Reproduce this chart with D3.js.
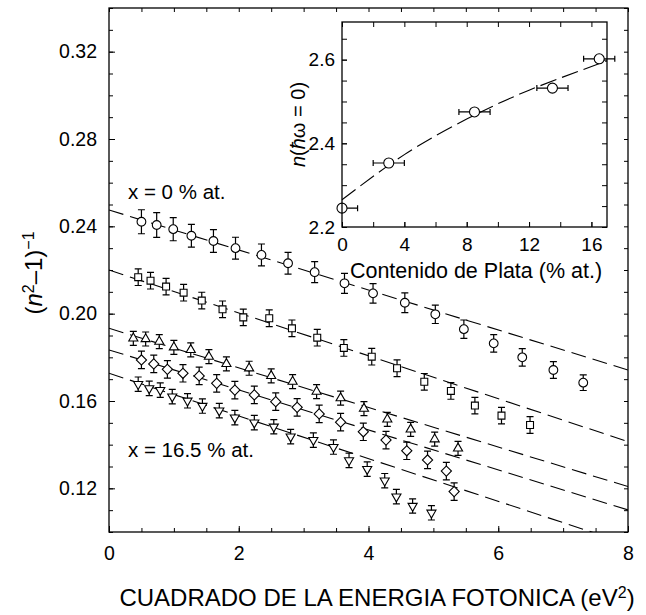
<!DOCTYPE html>
<html>
<head>
<meta charset="utf-8">
<script src="https://cdn.jsdelivr.net/npm/d3@7"></script>
<style>
	body { margin: 0; background: #fff; }
	text { font-family: "Liberation Sans", Arial, Helvetica, sans-serif; fill: #000; }
</style>
</head>
<body>
<div id="chart"></div>
<script>
// x = 0 % at. (circles)
var circleE = [0.50, 0.735, 0.99, 1.27, 1.61, 1.95, 2.35, 2.76, 3.17, 3.63, 4.07, 4.56, 5.03, 5.47, 5.93, 6.37, 6.85, 7.31];
var circleV = [0.2421, 0.2406, 0.2387, 0.2357, 0.2333, 0.2300, 0.2269, 0.2231, 0.2190, 0.2139, 0.2093, 0.2050, 0.1997, 0.1929, 0.1864, 0.1800, 0.1742, 0.1684];
var circleErr = [0.0055, 0.0057, 0.0053, 0.0052, 0.0052, 0.0050, 0.0050, 0.0050, 0.0048, 0.0046, 0.0045, 0.0045, 0.0042, 0.0042, 0.0040, 0.0040, 0.0038, 0.0036];

var squareE = [0.45, 0.64, 0.88, 1.15, 1.43, 1.75, 2.07, 2.47, 2.82, 3.21, 3.62, 4.05, 4.44, 4.86, 5.27, 5.64, 6.05, 6.49];
var squareV = [0.2167, 0.2151, 0.2124, 0.2096, 0.2060, 0.2020, 0.1983, 0.1979, 0.1933, 0.1890, 0.1843, 0.1803, 0.1750, 0.1688, 0.1646, 0.1579, 0.1533, 0.1490];
var squareErr = 0.0038;

var triUpE = [0.375, 0.565, 0.775, 1.00, 1.26, 1.54, 1.81, 2.16, 2.50, 2.83, 3.20, 3.57, 3.93, 4.29, 4.65, 5.02, 5.38];
var triUpV = [0.1887, 0.1884, 0.1872, 0.1846, 0.1834, 0.1803, 0.1770, 0.1750, 0.1715, 0.1689, 0.1643, 0.1613, 0.1565, 0.1516, 0.1470, 0.1425, 0.1383];
var triUpErr = 0.0032;

var diamondE = [0.50, 0.69, 0.90, 1.14, 1.39, 1.66, 1.94, 2.24, 2.57, 2.90, 3.24, 3.57, 3.92, 4.27, 4.59, 4.91, 5.20, 5.32];
var diamondV = [0.1788, 0.1770, 0.1745, 0.1727, 0.1715, 0.1681, 0.1650, 0.1628, 0.1597, 0.1571, 0.1541, 0.1503, 0.1459, 0.1421, 0.1372, 0.1330, 0.1279, 0.1185];
var diamondErr = 0.0040;

// x = 16.5 % at. (down triangles)
var triDownE = [0.45, 0.62, 0.79, 0.975, 1.21, 1.44, 1.70, 1.94, 2.24, 2.54, 2.80, 3.15, 3.46, 3.70, 3.98, 4.25, 4.43, 4.68, 4.97];
var triDownV = [0.1677, 0.1658, 0.1650, 0.1620, 0.1601, 0.1577, 0.1556, 0.1524, 0.1501, 0.1482, 0.1437, 0.1421, 0.1389, 0.1328, 0.1288, 0.1235, 0.1162, 0.1119, 0.1088];
var triDownErr = 0.0033;

// dashed fits, value at E2 = 0 and E2 = 8
var fitAt0 = [0.2475, 0.2200, 0.1933, 0.1834, 0.1727];
var fitAt8 = [0.1742, 0.1414, 0.1208, 0.1101, 0.0945];

var xTicks = [0, 2, 4, 6, 8];
var yTicks = [0.12, 0.16, 0.20, 0.24, 0.28, 0.32];

// inset: n(hw=0) vs silver content
var silverX = [0, 3, 8.5, 13.5, 16.5];
var silverN = [2.245, 2.353, 2.475, 2.532, 2.602];
var silverErr = 1.0;
var curveX = [0, 4, 8, 12, 17];
var curveN = [2.265, 2.373, 2.458, 2.527, 2.597];
var insetXTicks = [0, 4, 8, 12, 16];
var insetYTicks = [2.2, 2.4, 2.6];

var W = 646, H = 615;
var margin = {top: 8, right: 18, bottom: 83, left: 109};
var width = W - margin.left - margin.right;
var height = H - margin.top - margin.bottom;

var svg = d3.select("#chart").append("svg")
	.attr("width", W)
	.attr("height", H);

var g = svg.append("g")
	.attr("transform", "translate(" + margin.left + "," + margin.top + ")");

var x = d3.scaleLinear().domain([0, 8]).range([0, width]);
var y = d3.scaleLinear().domain([0.10, 0.34]).range([height, 0]);

g.append("clipPath").attr("id", "frameClip")
	.append("rect").attr("width", width).attr("height", height);

function styleAxis(sel) {
	sel.select(".domain").remove();
	sel.selectAll("line").attr("stroke", "#000").attr("stroke-width", 1);
	sel.selectAll("text").style("font-size", "19.5px").attr("fill", "#000");
}

// minor ticks on all four sides
g.append("g").call(d3.axisLeft(y).tickValues(d3.range(0.10, 0.345, 0.01)).tickSize(-4).tickFormat("")).call(styleAxis);
g.append("g").attr("transform", "translate(" + width + ",0)")
	.call(d3.axisRight(y).tickValues(d3.range(0.10, 0.345, 0.01)).tickSize(-4).tickFormat("")).call(styleAxis);
g.append("g").attr("transform", "translate(0," + height + ")")
	.call(d3.axisBottom(x).tickValues(d3.range(0, 8.01, 0.5)).tickSize(-4).tickFormat("")).call(styleAxis);
g.append("g")
	.call(d3.axisTop(x).tickValues(d3.range(0, 8.01, 0.5)).tickSize(-4).tickFormat("")).call(styleAxis);

// labelled ticks
g.append("g").call(d3.axisLeft(y).tickValues(yTicks).tickSize(-6).tickPadding(12).tickFormat(d3.format(".2f"))).call(styleAxis);
g.append("g").attr("transform", "translate(0," + height + ")")
	.call(d3.axisBottom(x).tickValues(xTicks).tickSize(-6).tickPadding(14).tickFormat(d3.format("d"))).call(styleAxis);

// fitted lines
var lines = g.append("g").attr("clip-path", "url(#frameClip)");
fitAt0.forEach(function (v0, i) {
	lines.append("line")
		.attr("x1", x(0)).attr("y1", y(v0))
		.attr("x2", x(8)).attr("y2", y(fitAt8[i]))
		.attr("stroke", "#000")
		.attr("stroke-width", 1.1)
		.attr("stroke-dasharray", "15,7");
});

function drawSeries(E, V, err, type, size, rot) {
	var pts = E.map(function (e, i) {
		return {e: e, v: V[i], err: Array.isArray(err) ? err[i] : err};
	});
	var s = g.append("g");
	s.selectAll(".bar").data(pts).enter().append("path")
		.attr("class", "bar")
		.attr("d", function (d) {
			var px = x(d.e), y0 = y(d.v - d.err), y1 = y(d.v + d.err);
			return "M" + px + "," + y0 + "V" + y1 +
				"M" + (px - 3.5) + "," + y0 + "h7" +
				"M" + (px - 3.5) + "," + y1 + "h7";
		})
		.attr("fill", "none")
		.attr("stroke", "#000")
		.attr("stroke-width", 1.2);
	s.selectAll(".mark").data(pts).enter().append("path")
		.attr("class", "mark")
		.attr("d", d3.symbol().type(type).size(size))
		.attr("transform", function (d) {
			return "translate(" + x(d.e) + "," + y(d.v) + ") rotate(" + rot + ")";
		})
		.attr("fill", "#fff")
		.attr("stroke", "#000")
		.attr("stroke-width", 1.1);
}

drawSeries(circleE, circleV, circleErr, d3.symbolCircle, 60, 0);
drawSeries(squareE, squareV, squareErr, d3.symbolSquare, 48, 0);
drawSeries(triUpE, triUpV, triUpErr, d3.symbolTriangle, 36, 0);
drawSeries(diamondE, diamondV, diamondErr, d3.symbolSquare, 52, 45);
drawSeries(triDownE, triDownV, triDownErr, d3.symbolTriangle, 36, 180);

g.append("rect")
	.attr("width", width).attr("height", height)
	.attr("fill", "none").attr("stroke", "#000").attr("stroke-width", 1.3);

g.append("text").attr("x", 19).attr("y", 190.5).style("font-size", "20.5px").text("x = 0 % at.");
g.append("text").attr("x", 19).attr("y", 449).style("font-size", "20.5px").text("x = 16.5 % at.");

// axis titles
var xt = svg.append("text")
	.attr("x", 377).attr("y", 606)
	.attr("text-anchor", "middle")
	.style("font-size", "24px");
xt.append("tspan").text("CUADRADO DE LA ENERGIA FOTONICA (eV");
xt.append("tspan").attr("baseline-shift", "super").style("font-size", "16px").text("2");
xt.append("tspan").text(")");

var yt = svg.append("text")
	.attr("transform", "translate(42,273) rotate(-90)")
	.attr("text-anchor", "middle")
	.style("font-size", "24px");
yt.append("tspan").text("(");
yt.append("tspan").style("font-style", "italic").text("n");
yt.append("tspan").attr("baseline-shift", "super").style("font-size", "16px").text("2");
yt.append("tspan").text("\u20131)");
yt.append("tspan").attr("baseline-shift", "super").style("font-size", "16px").text("\u22121");

// inset
var inset = {left: 342, top: 22, width: 265, height: 205};
var ig = svg.append("g").attr("transform", "translate(" + inset.left + "," + inset.top + ")");
var ix = d3.scaleLinear().domain([0, 17]).range([0, inset.width]);
var iy = d3.scaleLinear().domain([2.2, 2.69]).range([inset.height, 0]);

ig.append("rect").attr("width", inset.width).attr("height", inset.height).attr("fill", "#fff");

function styleInset(sel) {
	sel.select(".domain").remove();
	sel.selectAll("line").attr("stroke", "#000");
	sel.selectAll("text").style("font-size", "19px").attr("fill", "#000");
}

ig.append("g").attr("transform", "translate(0," + inset.height + ")")
	.call(d3.axisBottom(ix).tickValues(d3.range(0, 17, 2)).tickSize(-5).tickFormat("")).call(styleInset);
ig.append("g")
	.call(d3.axisTop(ix).tickValues(d3.range(0, 17, 2)).tickSize(-5).tickFormat("")).call(styleInset);
ig.append("g")
	.call(d3.axisLeft(iy).tickValues(d3.range(2.2, 2.69, 0.05)).tickSize(-5).tickFormat("")).call(styleInset);
ig.append("g").attr("transform", "translate(" + inset.width + ",0)")
	.call(d3.axisRight(iy).tickValues(d3.range(2.2, 2.69, 0.05)).tickSize(-5).tickFormat("")).call(styleInset);
ig.append("g").attr("transform", "translate(0," + inset.height + ")")
	.call(d3.axisBottom(ix).tickValues(insetXTicks).tickSize(-5).tickPadding(11).tickFormat(d3.format("d"))).call(styleInset);
ig.append("g")
	.call(d3.axisLeft(iy).tickValues(insetYTicks).tickSize(-5).tickPadding(7).tickFormat(d3.format(".1f"))).call(styleInset);

var curvePts = curveX.map(function (c, i) { return [c, curveN[i]]; });
ig.append("path")
	.datum(curvePts)
	.attr("d", d3.line().x(function (d) { return ix(d[0]); }).y(function (d) { return iy(d[1]); }).curve(d3.curveNatural))
	.attr("fill", "none")
	.attr("stroke", "#000")
	.attr("stroke-width", 1.1)
	.attr("stroke-dasharray", "17,6");

var ipts = silverX.map(function (c, i) { return {c: c, n: silverN[i]}; });
ig.selectAll(".xbar").data(ipts).enter().append("path")
	.attr("class", "xbar")
	.attr("d", function (d) {
		var x0 = ix(Math.max(d.c - silverErr, 0)), x1 = ix(d.c + silverErr), py = iy(d.n);
		return "M" + x0 + "," + py + "H" + x1 +
			(d.c - silverErr >= 0 ? "M" + x0 + "," + (py - 3) + "v6" : "") +
			"M" + x1 + "," + (py - 3) + "v6";
	})
	.attr("fill", "none")
	.attr("stroke", "#000")
	.attr("stroke-width", 1.2);
ig.selectAll(".pt").data(ipts).enter().append("circle")
	.attr("class", "pt")
	.attr("cx", function (d) { return ix(d.c); })
	.attr("cy", function (d) { return iy(d.n); })
	.attr("r", 5)
	.attr("fill", "#fff")
	.attr("stroke", "#000")
	.attr("stroke-width", 1.1);

ig.append("rect").attr("width", inset.width).attr("height", inset.height)
	.attr("fill", "none").attr("stroke", "#000").attr("stroke-width", 1.3);

ig.append("text")
	.attr("x", 134).attr("y", 256)
	.attr("text-anchor", "middle")
	.style("font-size", "21.5px")
	.text("Contenido de Plata (% at.)");

var it = ig.append("text")
	.attr("transform", "translate(-37," + (inset.height / 2) + ") rotate(-90)")
	.attr("text-anchor", "middle")
	.style("font-size", "20px");
it.append("tspan").style("font-style", "italic").text("n");
it.append("tspan").text("(");
it.append("tspan").style("font-style", "italic").text("\u0127");
it.append("tspan").text("\u03c9 = 0)");
</script>
</body>
</html>
